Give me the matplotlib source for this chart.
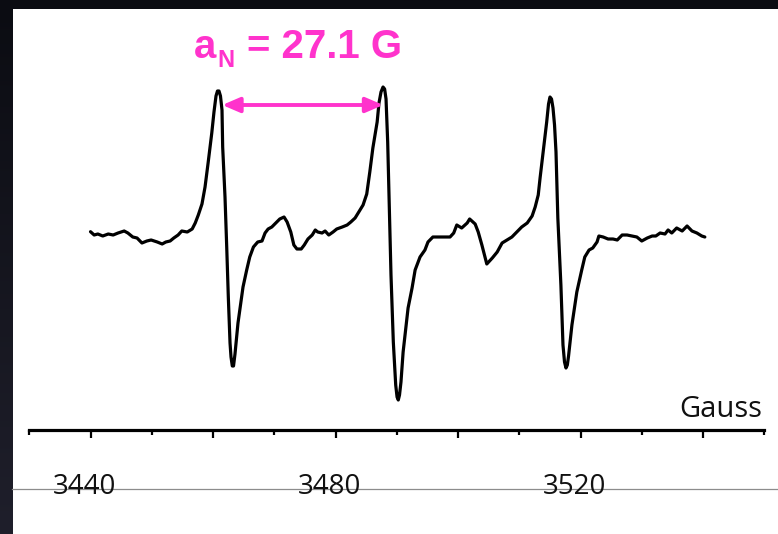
import numpy as np
import matplotlib
matplotlib.use("Agg")
import matplotlib.pyplot as plt
from matplotlib.patches import Rectangle
from matplotlib.lines import Line2D
from matplotlib.transforms import ScaledTranslation
from matplotlib.colors import LinearSegmentedColormap

# ---- data (field in Gauss, signal in arbitrary units) ----
field_G = [
    3440.0, 3440.6, 3441.2, 3442.0, 3442.9, 3443.7, 3444.5, 3445.5, 3446.1, 3446.9,
    3447.6, 3448.4, 3449.2, 3449.9, 3450.9, 3451.7, 3452.3, 3453.0, 3453.6, 3454.3,
    3454.9, 3455.8, 3456.6, 3457.1, 3457.6, 3458.2, 3458.7, 3459.2, 3459.8,
    3460.16, 3460.49, 3460.73, 3460.98, 3461.22, 3461.47,
    3461.58, 3461.96, 3462.24, 3462.50, 3462.78, 3462.94, 3463.15, 3463.35, 3463.59,
    3464.08, 3464.9, 3465.5, 3466.0, 3466.6, 3467.3, 3468.0, 3468.5, 3469.0, 3469.6,
    3470.4, 3470.9, 3471.6, 3472.1, 3472.7, 3473.2, 3473.7, 3474.4, 3474.9, 3475.5,
    3476.2, 3476.7, 3477.1, 3477.8, 3478.3, 3478.9, 3479.6, 3480.2, 3481.1, 3481.9,
    3482.5, 3483.2, 3483.8, 3484.5, 3485.1, 3485.6, 3486.1, 3486.8,
    3487.10, 3487.43, 3487.76, 3488.02, 3488.25, 3488.52, 3488.78, 3489.06, 3489.44,
    3489.83, 3490.05, 3490.25, 3490.45, 3490.69, 3491.04, 3491.85,
    3492.5, 3493.0, 3493.8, 3494.6, 3495.1, 3495.9, 3496.7, 3497.6, 3498.7, 3499.3,
    3499.8, 3500.6, 3501.5, 3501.9, 3502.8, 3503.3, 3503.9, 3504.4, 3504.7, 3505.6,
    3506.4, 3507.2, 3508.0, 3508.8, 3509.6, 3510.4, 3511.3, 3512.1, 3512.6, 3513.1,
    3513.4, 3513.9,
    3514.48, 3514.78, 3515.02, 3515.27, 3515.51, 3515.76, 3516.0, 3516.3, 3516.8,
    3517.14, 3517.39, 3517.63, 3517.85, 3518.05, 3518.6,
    3519.4, 3520.2, 3520.7, 3521.4, 3522.0, 3522.7, 3523.0, 3523.7,
    3524.5, 3525.3, 3526.0, 3526.8, 3527.6, 3528.4, 3529.2, 3530.0, 3530.9, 3531.7,
    3532.3, 3533.0, 3533.8, 3534.3, 3534.9, 3535.7, 3536.6, 3537.4, 3538.2, 3539.0,
    3539.8, 3540.3,
]
signal = [
    5.3, 2, 3, 1, 3, 2, 4, 6, 4, 0,
    -1, -6, -4, -3, -5, -7, -5, -4, -1, 2,
    6, 5, 8, 14, 22, 33, 50, 74, 104,
    125, 141, 146, 146, 141, 127,
    90, 40, -10, -60, -106, -120, -129, -129, -117,
    -86, -50, -33, -20, -10, -5, -4, 4, 8, 10,
    15, 18, 20, 15, 5, -8, -12, -12, -8, -2,
    2, 7, 5, 4, 6, 2, 5, 8, 10, 12,
    15, 19, 25, 32, 43, 65, 89, 115,
    134, 145, 150, 148, 138, 95, 29, -38, -105,
    -148, -160, -163, -158, -145, -115, -71,
    -51, -33, -20, -13, -5, 0, 0, 0, 0, 4,
    12, 9, 14, 18, 13, 5, -8, -20, -27, -21,
    -15, -6, -3, 0, 5, 10, 14, 21, 30, 42,
    59, 85,
    115, 133, 140, 138, 129, 112, 85, 19, -48,
    -108, -125, -131, -128, -119, -88,
    -55, -33, -20, -13, -11, -5, 1, 0,
    -2, -2, -3, 2, 2, 1, 0, -4, -1, 1,
    1, 4, 3, 7, 4, 9, 6, 11, 6, 4,
    1, 0,
]
major_ticks = [3440, 3460, 3480, 3500, 3520, 3540]
minor_ticks = [3430, 3450, 3470, 3490, 3510, 3530, 3550]
labelled_ticks = [3440, 3480, 3520]
coupling_peaks = [3461.5, 3487.8]   # arrow spans the first two low-field maxima
axis_label = "Gauss"

W, H = 778, 534
fig = plt.figure(figsize=(W / 100, H / 100), dpi=100)

# dark slide frame with white content area
bg = fig.add_axes([0, 0, 1, 1], zorder=0)
bg.axis("off")
grad = np.linspace(0, 1, 256).reshape(-1, 1)
cm = LinearSegmentedColormap.from_list("frame", ["#0b0c12", "#1f1f2b"])
bg.imshow(grad, aspect="auto", cmap=cm, extent=[0, 1, 0, 1], origin="upper")
bg.set_xlim(0, 1); bg.set_ylim(0, 1)
bg.add_patch(Rectangle((13 / W, 0), 1, (H - 9) / H, transform=fig.transFigure,
                       facecolor="white", edgecolor="none"))
# thin grey rule running through the tick labels
bg.add_line(Line2D([12 / W, 1], [1 - 489 / H, 1 - 489 / H], transform=fig.transFigure,
                   color="#8c8c8c", lw=0.9))

ax = fig.add_axes([0, 0, 1, 1], zorder=2)
ax.patch.set_alpha(0)
x0 = 3440 - 90.5 / 6.125
ax.set_xlim(x0, x0 + W / 6.125)
ax.set_ylim(237 - H, 237)

ax.plot(field_G, signal, color="black", lw=2.3, solid_joinstyle="round",
        solid_capstyle="round")

for s in ("top", "left", "right"):
    ax.spines[s].set_visible(False)
ax.spines["bottom"].set_position(("data", -193))
ax.spines["bottom"].set_bounds(minor_ticks[0], minor_ticks[-1])
ax.spines["bottom"].set_linewidth(2.3)
ax.set_yticks([])
ax.set_xticks(major_ticks)
ax.set_xticks(minor_ticks, minor=True)
ax.set_xticklabels([str(t) if t in labelled_ticks else "" for t in major_ticks])
ax.tick_params(axis="x", which="major", direction="out", length=6, width=1.6,
               pad=25, labelsize=20, labelcolor="#111111")
ax.tick_params(axis="x", which="minor", direction="out", length=3.8, width=1.6)
for lab in ax.get_xticklabels():
    lab.set_fontfamily(["Open Sans", "DejaVu Sans"])
    lab.set_transform(lab.get_transform() + ScaledTranslation(-6 / 100, 0, fig.dpi_scale_trans))

fig.text(762 / W, 1 - 417 / H, axis_label, ha="right", va="baseline", fontsize=21,
         family=["Open Sans", "DejaVu Sans"], color="#111111", zorder=3)

# hyperfine coupling annotation
pink = "#ff33cc"
tfam = ["Liberation Sans Narrow", "Liberation Sans", "DejaVu Sans"]
fig.text(194 / W, 1 - 58 / H, "a", ha="left", va="baseline", fontsize=29,
         fontweight="bold", family=tfam, color=pink)
fig.text(217 / W, 1 - 67 / H, "N", ha="left", va="baseline", fontsize=17,
         fontweight="bold", family=tfam, color=pink)
fig.text(247 / W, 1 - 58 / H, "= 27.1 G", ha="left", va="baseline", fontsize=29,
         fontweight="bold", family=tfam, color=pink)
ax.annotate("", xy=(coupling_peaks[1], 132), xytext=(coupling_peaks[0], 132),
            arrowprops=dict(arrowstyle="<|-|>,head_length=0.7,head_width=0.3",
                            mutation_scale=15, color=pink, lw=2.8,
                            shrinkA=0, shrinkB=0))

fig.savefig("out.png", dpi=100)
